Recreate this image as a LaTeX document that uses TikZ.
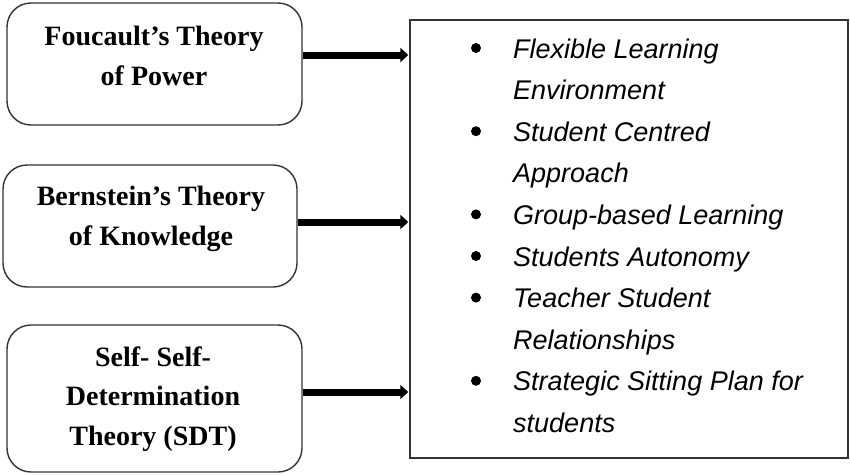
\documentclass[tikz,border=0pt]{standalone}
\usepackage{fontspec}
\setmainfont{Liberation Serif}
\newfontfamily\itemfont{Liberation Sans}
\usetikzlibrary{arrows.meta}
\tikzset{
  theorybox/.style={draw=black!80, line width=1.4pt, rounded corners=24pt, inner sep=0pt},
  theorytext/.style={font=\fontsize{28}{39.5}\selectfont\bfseries, align=center, inner sep=0pt},
  itemtext/.style={font=\fontsize{27}{32}\selectfont\itemfont\itshape, anchor=base west, inner sep=0pt},
  bulletdot/.style={fill=black, circle, inner sep=0pt, minimum size=10pt},
  arr/.style={line width=7pt, -{Triangle[length=8pt,width=14pt]}},
  listbox/.style={draw=black!80, line width=1.4pt, inner sep=0pt}
}
\begin{document}
\begin{tikzpicture}[x=1pt,y=-1pt]
\useasboundingbox (0,0) rectangle (850,474);
% left boxes
\node[theorybox, minimum width=295pt, minimum height=122pt] (b1) at (154.5,64) {};
\node[theorybox, minimum width=294pt, minimum height=122pt] (b2) at (150,226) {};
\node[theorybox, minimum width=295pt, minimum height=147pt] (b3) at (154.5,398.5) {};
\node[theorytext] (t1) at (154,56) {Foucault’s Theory\\of Power};
\node[theorytext] (t2) at (151,219) {Bernstein’s Theory\\of Knowledge};
\node[theorytext] (t3) at (153,399) {Self- Self-\\Determination\\Theory (SDT)};
% right box
\node[listbox, minimum width=438pt, minimum height=438pt] (R) at (629,239) {};
% arrow levels
\coordinate (y1) at (0,55);
\coordinate (y2) at (0,222);
\coordinate (y3) at (0,392);
\draw[arr] (b1.east |- y1) -- ([xshift=-1pt]R.west |- y1);
\draw[arr] (b2.east |- y2) -- ([xshift=-1pt]R.west |- y2);
\draw[arr] (b3.east |- y3) -- ([xshift=-1pt]R.west |- y3);
% list items
\node[itemtext] (i1a) at (513,58) {Flexible Learning};
\node[itemtext] (i1b) at (513,99.6) {Environment};
\node[itemtext] (i2a) at (513,141.2) {Student Centred};
\node[itemtext] (i2b) at (513,182.8) {Approach};
\node[itemtext] (i3) at (513,224.4) {Group-based Learning};
\node[itemtext] (i4) at (513,266) {Students Autonomy};
\node[itemtext] (i5a) at (513,307.6) {Teacher Student};
\node[itemtext] (i5b) at (513,349.2) {Relationships};
\node[itemtext] (i6a) at (513,390.8) {Strategic Sitting Plan for};
\node[itemtext] (i6b) at (513,432.4) {students};
\node[bulletdot] (d1) at (476,48) {};
\node[bulletdot] (d2) at (476,131.2) {};
\node[bulletdot] (d3) at (476,214.4) {};
\node[bulletdot] (d4) at (476,256) {};
\node[bulletdot] (d5) at (476,297.6) {};
\node[bulletdot] (d6) at (476,380.8) {};
\end{tikzpicture}
\end{document}
